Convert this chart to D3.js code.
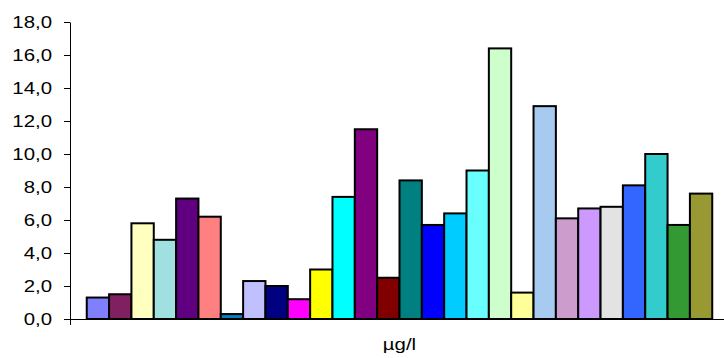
<!DOCTYPE html>
<html>
<head>
<meta charset="utf-8">
<script src="https://cdn.jsdelivr.net/npm/d3@7"></script>
<style>
  html, body { margin: 0; padding: 0; background: #ffffff; }
  svg { display: block; }
  text { font-family: "Liberation Sans", Arial, sans-serif; fill: #000; }
</style>
</head>
<body>
<svg id="chart" width="724" height="358"></svg>
<script>
// ---- data ----
const categories = ["µg/l"];
const seriesNames = ["S1","S2","S3","S4","S5","S6","S7","S8","S9","S10","S11","S12","S13","S14",
                     "S15","S16","S17","S18","S19","S20","S21","S22","S23","S24","S25","S26","S27","S28"];
const seriesValues = [1.3, 1.5, 5.8, 4.8, 7.3, 6.2, 0.3, 2.3, 2.0, 1.2, 3.0, 7.4, 11.5, 2.5,
                      8.4, 5.7, 6.4, 9.0, 16.4, 1.6, 12.9, 6.1, 6.7, 6.8, 8.1, 10.0, 5.7, 7.6];
const seriesColors = ["#8080ff","#802060","#ffffc0","#a0e0e0","#600080","#ff8080","#0080c0","#c0c0ff",
                      "#000080","#ff00ff","#ffff00","#00ffff","#800080","#800000","#008080","#0000ff",
                      "#00ccff","#69ffff","#ccffcc","#ffff99","#a6caf0","#cc9ccc","#cc99ff","#e3e3e3",
                      "#3366ff","#33cccc","#339933","#999933"];
const yTicks = [0, 2, 4, 6, 8, 10, 12, 14, 16, 18];
const yMax = 18;

// ---- layout ----
const plotLeft = 70, plotRight = 729, plotTop = 22, plotBottom = 319;
const svg = d3.select("#chart");

const y = d3.scaleLinear().domain([0, yMax]).range([plotBottom, plotTop]);
const xCat = d3.scaleBand().domain(categories).range([plotLeft, plotRight]).padding(0);
const xSer = d3.scaleBand().domain(seriesNames).range([0, xCat.bandwidth()])
  .paddingInner(0).paddingOuter(0.75);

const fmt = v => d3.format(".1f")(v).replace(".", ",");

// Y axis
const yAxis = svg.append("g")
  .attr("transform", `translate(${plotLeft},0)`)
  .call(d3.axisLeft(y).tickValues(yTicks).tickFormat(fmt).tickSize(6).tickSizeOuter(0).tickPadding(9));
yAxis.select(".domain").attr("stroke", "#000").attr("stroke-width", 1);
yAxis.selectAll(".tick line").attr("stroke", "#000");
yAxis.selectAll(".tick text")
  .attr("font-size", 17)
  .attr("font-family", "Liberation Sans, Arial, sans-serif")
  .attr("x", -15)
  .attr("transform", "scale(1.2,1)");

// Bars
const g = svg.append("g");
categories.forEach(cat => {
  g.selectAll("rect.bar")
    .data(seriesValues.map((v, i) => ({ name: seriesNames[i], value: v, color: seriesColors[i] })))
    .join("rect")
    .attr("class", "bar")
    .attr("x", d => xCat(cat) + xSer(d.name))
    .attr("width", xSer.bandwidth())
    .attr("y", d => y(d.value))
    .attr("height", d => y(0) - y(d.value))
    .attr("fill", d => d.color)
    .attr("stroke", "#000")
    .attr("stroke-width", 2);
});

// X axis (category label)
const xAxis = svg.append("g")
  .attr("transform", `translate(0,${plotBottom})`)
  .call(d3.axisBottom(xCat).tickSize(0).tickSizeOuter(0).tickPadding(19));
xAxis.select(".domain").attr("stroke", "#000").attr("stroke-width", 1)
  .attr("d", `M${plotLeft - 6},0.5H${plotRight}`);
xAxis.selectAll(".tick text")
  .attr("font-size", 17)
  .attr("font-family", "Liberation Sans, Arial, sans-serif")
  .attr("transform", "scale(1.2,1)");
// category boundary ticks
const bounds = [plotLeft, plotRight];
xAxis.selectAll("line.bound").data(bounds).join("line")
  .attr("class", "bound")
  .attr("x1", d => d + 0.5).attr("x2", d => d + 0.5)
  .attr("y1", 0).attr("y2", 6)
  .attr("stroke", "#000");
</script>
</body>
</html>
